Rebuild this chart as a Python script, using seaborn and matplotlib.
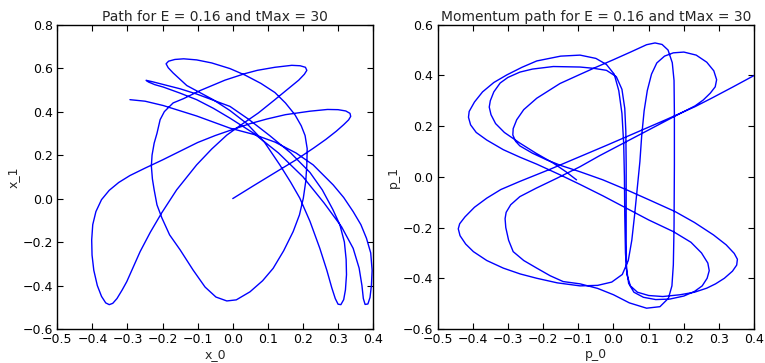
import matplotlib
matplotlib.use("Agg")
import matplotlib.pyplot as plt
import seaborn as sns
import pandas as pd

energy = 0.16
t_max = 30

# Configuration-space path (x_0, x_1), in time order
pos_x0 = [0.000, 0.060, 0.120, 0.180, 0.230, 0.265, 0.295, 0.316, 0.330, 0.336, 0.334, 0.322,
          0.300, 0.270, 0.220, 0.150, 0.097, 0.050, 0.000, -0.050, -0.100, -0.150, -0.200,
          -0.250, -0.293, -0.325, -0.352, -0.374, -0.390, -0.399, -0.402, -0.401, -0.396, -0.386,
          -0.374, -0.362, -0.352, -0.342, -0.330, -0.315, -0.302, -0.285, -0.264, -0.235, -0.203,
          -0.160, -0.103, -0.060, -0.017, 0.020, 0.073, 0.120, 0.160, 0.188, 0.204, 0.211, 0.207,
          0.192, 0.168, 0.120, 0.070, 0.035, -0.022, -0.093, -0.140, -0.170, -0.195, -0.207,
          -0.216, -0.224, -0.230, -0.232, -0.229, -0.224, -0.216, -0.202, -0.180, -0.150, -0.113,
          -0.079, -0.048, -0.017, 0.010, 0.049, 0.085, 0.115, 0.145, 0.172, 0.190, 0.201, 0.208,
          0.211, 0.212, 0.206, 0.195, 0.177, 0.150, 0.120, 0.080, 0.035, -0.008, -0.060, -0.103,
          -0.140, -0.165, -0.183, -0.190, -0.184, -0.170, -0.150, -0.131, -0.093, -0.056, -0.008,
          0.040, 0.090, 0.134, 0.165, 0.191, 0.220, 0.248, 0.268, 0.282, 0.292, 0.300, 0.308,
          0.316, 0.321, 0.324, 0.323, 0.318, 0.305, 0.285, 0.255, 0.220, 0.165, 0.105, 0.045,
          -0.008, -0.060, -0.103, -0.150, -0.198, -0.230, -0.247, -0.240, -0.222, -0.198, -0.150,
          -0.103, -0.055, -0.008, 0.060, 0.130, 0.200, 0.260, 0.310, 0.343, 0.360, 0.368, 0.372,
          0.377, 0.385, 0.391, 0.395, 0.397, 0.393, 0.381, 0.365, 0.343, 0.316, 0.286, 0.229,
          0.180, 0.120, 0.060, -0.008, -0.103, -0.198, -0.250, -0.293]
pos_x1 = [0.000, 0.060, 0.119, 0.178, 0.232, 0.272, 0.310, 0.340, 0.362, 0.378, 0.392, 0.403,
          0.409, 0.410, 0.402, 0.386, 0.366, 0.345, 0.318, 0.290, 0.258, 0.218, 0.178,
          0.140, 0.106, 0.074, 0.038, -0.005, -0.060, -0.120, -0.190, -0.260, -0.330, -0.400,
          -0.450, -0.480, -0.488, -0.482, -0.460, -0.420, -0.382, -0.320, -0.244, -0.155, -0.067,
          0.040, 0.155, 0.228, 0.292, 0.335, 0.394, 0.455, 0.508, 0.545, 0.572, 0.590, 0.604,
          0.611, 0.613, 0.604, 0.590, 0.575, 0.545, 0.497, 0.460, 0.440, 0.400, 0.363,
          0.300, 0.255, 0.200, 0.150, 0.090, 0.040, -0.029, -0.089, -0.167, -0.236, -0.329,
          -0.407, -0.453, -0.471, -0.466, -0.429, -0.378, -0.321, -0.240, -0.152, -0.075, 0.002, 0.080,
          0.155, 0.230, 0.290, 0.335, 0.386, 0.440, 0.488, 0.530, 0.568, 0.598, 0.624, 0.638,
          0.643, 0.640, 0.632, 0.620, 0.602, 0.578, 0.548, 0.520, 0.487, 0.455, 0.405,
          0.345, 0.260, 0.155, 0.075, 0.002, -0.105, -0.229, -0.330, -0.410, -0.460, -0.486, -0.488,
          -0.465, -0.420, -0.350, -0.280, -0.200, -0.120, -0.050, 0.040, 0.120, 0.210, 0.290, 0.365,
          0.424, 0.455, 0.481, 0.505, 0.525, 0.538, 0.544, 0.536, 0.524, 0.513, 0.485,
          0.455, 0.415, 0.370, 0.300, 0.210, 0.100, -0.020, -0.130, -0.229, -0.320, -0.400, -0.460,
          -0.487, -0.485, -0.455, -0.400, -0.330, -0.250, -0.183, -0.120, -0.060, 0.005, 0.063, 0.155,
          0.210, 0.260, 0.295, 0.324, 0.380, 0.428, 0.448, 0.455]

# Momentum path (p_0, p_1), in time order
mom_p0 = [0.400, 0.340, 0.280, 0.232, 0.150, 0.060, -0.020, -0.095, -0.180, -0.266, -0.320,
          -0.360, -0.395, -0.422, -0.437, -0.441, -0.436, -0.420, -0.398, -0.360, -0.313, -0.265,
          -0.218, -0.160, -0.095, -0.045, -0.005, 0.025, 0.042, 0.052, 0.060, 0.068, 0.075, 0.080,
          0.087, 0.096, 0.108, 0.123, 0.145, 0.170, 0.200, 0.235, 0.265, 0.285, 0.293, 0.289,
          0.275, 0.255, 0.232, 0.170, 0.100, 0.030, -0.040, -0.095, -0.160, -0.220, -0.266,
          -0.292, -0.305, -0.308, -0.306, -0.298, -0.285, -0.255, -0.218, -0.180, -0.143, -0.095,
          -0.045, 0.000, 0.045, 0.094, 0.132, 0.156, 0.166, 0.170, 0.172, 0.173, 0.173, 0.172,
          0.167, 0.155, 0.138, 0.118, 0.094, 0.050, 0.000, -0.050, -0.095, -0.152, -0.218,
          -0.255, -0.275, -0.285, -0.286, -0.278, -0.266, -0.230, -0.190, -0.150, -0.095, -0.030,
          0.037, 0.100, 0.175, 0.230, 0.284, 0.320, 0.343, 0.352, 0.350, 0.338, 0.315, 0.290,
          0.265, 0.230, 0.189, 0.140, 0.100, 0.068, 0.048, 0.038, 0.034, 0.032, 0.031, 0.029,
          0.024, 0.015, 0.002, -0.020, -0.050, -0.095, -0.150, -0.218, -0.260, -0.303, -0.340,
          -0.372, -0.395, -0.410, -0.412, -0.406, -0.390, -0.360, -0.313, -0.265, -0.218, -0.152,
          -0.095, -0.030, 0.037, 0.100, 0.170, 0.220, 0.250, 0.268, 0.272, 0.266, 0.252, 0.230,
          0.200, 0.160, 0.120, 0.085, 0.058, 0.043, 0.037, 0.036, 0.036, 0.036, 0.035, 0.032,
          0.024, 0.008, -0.020, -0.057, -0.095, -0.171, -0.230, -0.266, -0.300, -0.322, -0.340,
          -0.350, -0.353, -0.348, -0.335, -0.310, -0.266, -0.220, -0.171, -0.135, -0.105]
mom_p1 = [0.400, 0.355, 0.311, 0.277, 0.226, 0.172, 0.124, 0.080, 0.030, -0.018, -0.050,
          -0.084, -0.120, -0.158, -0.185, -0.205, -0.232, -0.265, -0.295, -0.330, -0.360, -0.383,
          -0.400, -0.418, -0.430, -0.428, -0.415, -0.385, -0.330, -0.250, -0.150, -0.040, 0.060, 0.160,
          0.260, 0.340, 0.405, 0.449, 0.476, 0.489, 0.492, 0.480, 0.452, 0.418, 0.383, 0.355,
          0.330, 0.303, 0.280, 0.236, 0.185, 0.134, 0.083, 0.040, -0.005, -0.045, -0.078,
          -0.110, -0.140, -0.165, -0.200, -0.250, -0.295, -0.330, -0.360, -0.390, -0.413, -0.422,
          -0.440, -0.465, -0.497, -0.518, -0.512, -0.479, -0.430, -0.347, -0.200, 0.047, 0.250, 0.380,
          0.450, 0.500, 0.522, 0.528, 0.521, 0.493, 0.462, 0.432, 0.404, 0.368, 0.310,
          0.265, 0.225, 0.190, 0.165, 0.140, 0.122, 0.093, 0.067, 0.045, 0.020, -0.012,
          -0.051, -0.090, -0.137, -0.180, -0.229, -0.268, -0.302, -0.325, -0.348, -0.372, -0.400, -0.422,
          -0.439, -0.455, -0.465, -0.472, -0.468, -0.455, -0.430, -0.385, -0.300, -0.150, 0.000, 0.130,
          0.250, 0.340, 0.405, 0.443, 0.467, 0.480, 0.476, 0.457, 0.432, 0.402, 0.372,
          0.335, 0.295, 0.258, 0.235, 0.205, 0.175, 0.145, 0.107, 0.077, 0.050, 0.008,
          -0.030, -0.075, -0.124, -0.170, -0.216, -0.258, -0.300, -0.340, -0.370, -0.400, -0.430, -0.452,
          -0.470, -0.482, -0.484, -0.475, -0.455, -0.420, -0.360, -0.250, -0.100, 0.050, 0.180, 0.270,
          0.345, 0.395, 0.420, 0.428, 0.433, 0.435, 0.425, 0.413, 0.392, 0.370, 0.335,
          0.300, 0.275, 0.245, 0.210, 0.175, 0.133, 0.093, 0.054, 0.020, -0.012]

x_ticks = [-0.5, -0.4, -0.3, -0.2, -0.1, 0.0, 0.1, 0.2, 0.3, 0.4]
y_ticks_pos = [-0.6, -0.4, -0.2, 0.0, 0.2, 0.4, 0.6, 0.8]
y_ticks_mom = [-0.6, -0.4, -0.2, 0.0, 0.2, 0.4, 0.6]

sns.set_style("ticks")
plt.rcParams.update({
    "font.family": ["DejaVu Sans"],
    "font.size": 9,
    "axes.edgecolor": "black",
    "axes.linewidth": 1.0,
    "xtick.direction": "in",
    "ytick.direction": "in",
    "xtick.top": True,
    "ytick.right": True,
    "xtick.major.size": 4,
    "ytick.major.size": 4,
    "xtick.color": "black",
    "ytick.color": "black",
    "axes.unicode_minus": True,
})

fig = plt.figure(figsize=(7.65, 3.63), dpi=100)
ax_pos = fig.add_axes([0.0749, 0.0937, 0.4129, 0.8383])
ax_mom = fig.add_axes([0.5719, 0.0937, 0.4141, 0.8383])

pos_df = pd.DataFrame({"x_0": pos_x0, "x_1": pos_x1})
mom_df = pd.DataFrame({"p_0": mom_p0, "p_1": mom_p1})

sns.lineplot(data=pos_df, x="x_0", y="x_1", sort=False, estimator=None,
             color="blue", linewidth=1.0, ax=ax_pos)
sns.lineplot(data=mom_df, x="p_0", y="p_1", sort=False, estimator=None,
             color="blue", linewidth=1.0, ax=ax_mom)

ax_pos.set_xlim(-0.5, 0.4)
ax_pos.set_ylim(-0.6, 0.8)
ax_pos.set_xticks(x_ticks)
ax_pos.set_yticks(y_ticks_pos)
ax_pos.set_title(f"Path for E = {energy} and tMax = {t_max}", fontsize=10, pad=3)
ax_pos.set_xlabel("x_0", labelpad=1)
ax_pos.set_ylabel("x_1", labelpad=2)

ax_mom.set_xlim(-0.5, 0.4)
ax_mom.set_ylim(-0.6, 0.6)
ax_mom.set_xticks(x_ticks)
ax_mom.set_yticks(y_ticks_mom)
ax_mom.set_title(f"Momentum path for E = {energy} and tMax = {t_max}", fontsize=10, pad=3)
ax_mom.set_xlabel("p_0", labelpad=1)
ax_mom.set_ylabel("p_1", labelpad=2)

for ax in (ax_pos, ax_mom):
    ax.tick_params(labelsize=9, pad=3)

fig.savefig("out.png", dpi=100)
